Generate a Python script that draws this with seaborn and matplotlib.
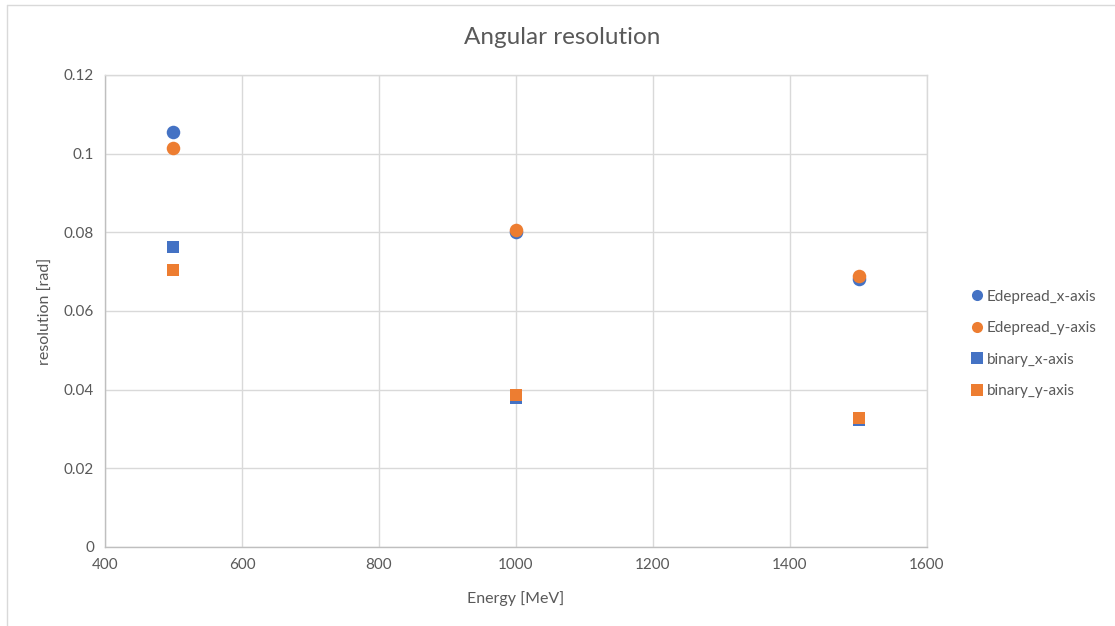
import matplotlib
matplotlib.use("Agg")
import matplotlib.pyplot as plt
from matplotlib.lines import Line2D
import seaborn as sns
import pandas as pd

# Beam energies and measured angular resolutions
energy = [500, 1000, 1500]
edepread_x = [0.1055, 0.0802, 0.0681]
edepread_y = [0.1014, 0.0806, 0.0690]
binary_x = [0.0763, 0.0378, 0.0323]
binary_y = [0.0704, 0.0386, 0.0328]

series_names = ["Edepread_x-axis", "Edepread_y-axis", "binary_x-axis", "binary_y-axis"]
series_values = [edepread_x, edepread_y, binary_x, binary_y]
series_colors = ["#4472C4", "#ED7D31", "#4472C4", "#ED7D31"]
series_markers = ["o", "o", "s", "s"]
series_sizes = [95, 95, 80, 80]

x_ticks = [400, 600, 800, 1000, 1200, 1400, 1600]
y_ticks = [0, 0.02, 0.04, 0.06, 0.08, 0.1, 0.12]
y_tick_labels = ["0", "0.02", "0.04", "0.06", "0.08", "0.1", "0.12"]

sns.set_theme(style="white")
plt.rcParams["font.family"] = ["Lato", "DejaVu Sans"]
text_color = "#595959"
grid_color = "#d9d9d9"

fig = plt.figure(figsize=(11.15, 6.26), dpi=100)
ax = fig.add_axes([105 / 1115, 1 - 547 / 626, (927 - 105) / 1115, (547 - 75) / 626])

for name, vals, col, mk, sz in zip(series_names, series_values, series_colors,
                                   series_markers, series_sizes):
    df = pd.DataFrame({"Energy": energy, "resolution": vals})
    sns.scatterplot(data=df, x="Energy", y="resolution", ax=ax, color=col,
                    marker=mk, s=sz, linewidth=0, zorder=3, legend=False)

ax.set_xlim(400, 1600)
ax.set_ylim(0, 0.12)
ax.set_xticks(x_ticks)
ax.set_yticks(y_ticks)
ax.set_yticklabels(y_tick_labels)
ax.grid(True, color=grid_color, linewidth=1)
ax.set_axisbelow(True)
for side in ["top", "right"]:
    ax.spines[side].set_color(grid_color)
    ax.spines[side].set_linewidth(1)
for side in ["left", "bottom"]:
    ax.spines[side].set_color("#bfbfbf")
    ax.spines[side].set_linewidth(1)
ax.tick_params(axis="both", colors=text_color, labelsize=11, length=0, pad=8)
ax.set_xlabel("Energy [MeV]", color=text_color, fontsize=11.5, labelpad=14)
ax.set_ylabel("resolution [rad]", color=text_color, fontsize=11.5, labelpad=8)
fig.text(562 / 1115, 1 - 37 / 626, "Angular resolution", color=text_color,
         fontsize=17.5, ha="center", va="center")

handles = [Line2D([0], [0], marker=mk, color="none", markerfacecolor=col,
                  markeredgewidth=0, markersize=8)
           for col, mk in zip(series_colors, series_markers)]
fig.legend(handles, series_names, loc="center left",
           bbox_to_anchor=(956 / 1115, 1 - 344 / 626), frameon=False,
           fontsize=11, labelcolor=text_color, handletextpad=0.1,
           handlelength=1.0, labelspacing=1.15)

# Light chart-area frame along the top and left edges
fig.add_artist(Line2D([7 / 1115, 1], [1 - 5 / 626, 1 - 5 / 626],
                      transform=fig.transFigure, color="#d9d9d9", linewidth=1))
fig.add_artist(Line2D([7 / 1115, 7 / 1115], [0, 1 - 5 / 626],
                      transform=fig.transFigure, color="#d9d9d9", linewidth=1))

fig.savefig("out.png", dpi=100, facecolor="white")
